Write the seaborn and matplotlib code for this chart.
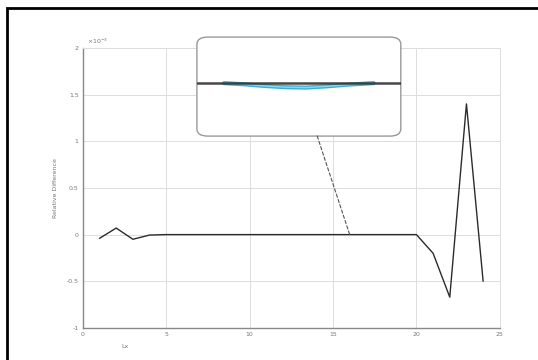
import numpy as np
import pandas as pd
import seaborn as sns
import matplotlib.pyplot as plt
from matplotlib.patches import FancyBboxPatch, Rectangle, ConnectionPatch

# Main series
lx = [1, 2, 3, 4, 5, 6, 7, 8, 9, 10, 11, 12, 13, 14, 15, 16, 17, 18, 19, 20, 21, 22, 23, 24]
rel_diff = [-0.04e-3, 0.07e-3, -0.05e-3, -0.005e-3, 0.0, 0.0, 0.0, 0.0, 0.0, 0.0,
            0.0, 0.0, 0.0, 0.0, 0.0, 0.0, 0.0, 0.0, 0.0, 0.0,
            -0.2e-3, -0.67e-3, 1.4e-3, -0.5e-3]

# Magnified view of the flat region
zoom_x = [5, 8, 11, 14, 17, 20]
zoom_black = [0, 0, 0, 0, 0, 0]
cyan_x = [7, 8.5, 10, 11.5, 13, 14.5, 16, 17.5, 18]
zoom_cyan = [0, -0.06, -0.14, -0.2, -0.22, -0.16, -0.08, -0.02, 0]

x_ticks = [0, 5, 10, 15, 20, 25]
y_ticks = [-1e-3, -0.5e-3, 0, 0.5e-3, 1e-3, 1.5e-3, 2e-3]
y_ticklabels = ["-1", "-0.5", "0", "0.5", "1", "1.5", "2"]

sns.set_style("white")
plt.rcParams["font.family"] = ["DejaVu Sans"]

fig = plt.figure(figsize=(5.38, 3.6), dpi=100)
fig.patch.set_facecolor("white")

# Outer frame
fig.patches.append(Rectangle((7 / 538, -0.1), 1.2, 1.1 - 8 / 360, transform=fig.transFigure,
                             fill=False, edgecolor="black", linewidth=2.0, zorder=0))

ax = fig.add_axes([0.154, 0.089, 0.775, 0.778])
df = pd.DataFrame({"Lx": lx, "diff": rel_diff})
sns.lineplot(data=df, x="Lx", y="diff", ax=ax, color="#2b2b2b", linewidth=1.0)

ax.set_xlim(0, 25)
ax.set_ylim(-1e-3, 2e-3)
ax.set_xticks(x_ticks)
ax.set_xticklabels([str(t) for t in x_ticks])
ax.set_yticks(y_ticks)
ax.set_yticklabels(y_ticklabels)
ax.text(0.01, 1.005, r"$\times10^{-3}$", transform=ax.transAxes, fontsize=4.5,
        color="#777777", ha="left", va="bottom")

ax.grid(True, color="#dddddd", linewidth=0.7)
for side in ["top", "right"]:
    ax.spines[side].set_color("#dddddd")
    ax.spines[side].set_linewidth(0.7)
for side in ["left", "bottom"]:
    ax.spines[side].set_color("#888888")
    ax.spines[side].set_linewidth(1.0)
ax.tick_params(axis="both", labelsize=4.5, colors="#777777", direction="in", length=2, width=0.6, pad=3)
ax.set_xlabel("Lx", fontsize=4.5, color="#777777", labelpad=5)
ax.set_ylabel("Relative Difference", fontsize=4.5, color="#777777", labelpad=6)
ax.xaxis.label.set_position((0.1, 0))

# Rounded backdrop for the magnified inset
bg = FancyBboxPatch((0.366, 0.622), 0.379, 0.275, boxstyle="round,pad=0,rounding_size=0.02",
                    transform=fig.transFigure, facecolor="white", edgecolor="#999999",
                    linewidth=1.0, zorder=2)
fig.patches.append(bg)

# Magnified inset
ins = fig.add_axes([0.366, 0.622, 0.379, 0.275])
ins.set_zorder(3)
ins.set_facecolor("none")
cdf = pd.DataFrame({"x": cyan_x, "cyan": zoom_cyan})
zdf = pd.DataFrame({"x": zoom_x, "black": zoom_black})
sns.lineplot(data=cdf, x="x", y="cyan", ax=ins, color="#1f9fcf", linewidth=3.0, alpha=0.85)
sns.lineplot(data=cdf, x="x", y="cyan", ax=ins, color="#8fe8f5", linewidth=1.0, alpha=0.8)
sns.lineplot(data=zdf, x="x", y="black", ax=ins, color="#333333", linewidth=1.8, alpha=0.9)
ins.set_xlim(5, 20)
ins.set_ylim(-2.6, 2.26)
ins.set_xticks([])
ins.set_yticks([])
ins.set_xlabel("")
ins.set_ylabel("")
for s in ins.spines.values():
    s.set_visible(False)

con = ConnectionPatch(xyA=(0.59, 0.0), coordsA=ins.transAxes, xyB=(16, 0), coordsB=ax.transData,
                      linestyle=(0, (3, 2)), color="#555555", linewidth=0.8)
con.set_zorder(4)
fig.add_artist(con)

fig.savefig("out.png", dpi=100, facecolor="white")
